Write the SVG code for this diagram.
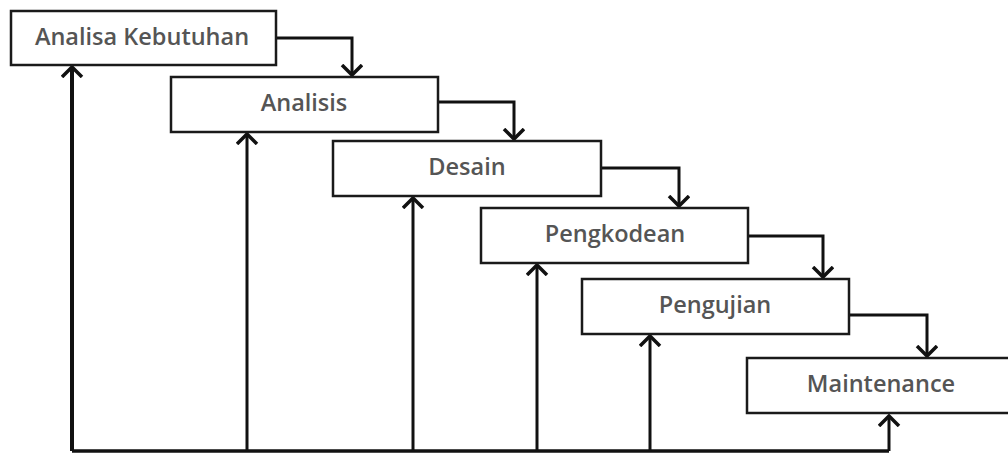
<svg xmlns="http://www.w3.org/2000/svg" width="1008" height="454" viewBox="0 0 1008 454">
<style>
.box{fill:#fff;stroke:#1a1a1a;stroke-width:2.5}
.lbl{font-family:"Open Sans","Liberation Sans",sans-serif;font-size:23.5px;font-weight:600;fill:#555;text-anchor:middle;dominant-baseline:central}
.ln{fill:none;stroke:#111;stroke-width:3}
</style>
<defs>
<marker id="ah" markerWidth="24" markerHeight="24" refX="11" refY="11" orient="auto" markerUnits="userSpaceOnUse">
<polyline points="1,1 11,11 1,21" fill="none" stroke="#111" stroke-width="3.5"/>
</marker>
</defs>
<rect width="1008" height="454" fill="#fff"/>
<g id="connectors">
<path class="ln" d="M72 451 H889" style="stroke-width:3.5"/>
<path class="ln" d="M72 451 V67" style="stroke-width:4" marker-end="url(#ah)"/>
<path class="ln" d="M247 451 V134" marker-end="url(#ah)"/>
<path class="ln" d="M413 451 V198" marker-end="url(#ah)"/>
<path class="ln" d="M537 451 V265" marker-end="url(#ah)"/>
<path class="ln" d="M650 451 V336" marker-end="url(#ah)"/>
<path class="ln" d="M889 451 V416" marker-end="url(#ah)"/>
<path class="ln" d="M276 38 H352 V75" marker-end="url(#ah)"/>
<path class="ln" d="M438 102 H514 V139" marker-end="url(#ah)"/>
<path class="ln" d="M601 168 H679 V206" marker-end="url(#ah)"/>
<path class="ln" d="M748 236 H823 V277" marker-end="url(#ah)"/>
<path class="ln" d="M849 315 H927 V356" marker-end="url(#ah)"/>
</g>
<g id="n1"><rect class="box" x="11" y="11" width="265" height="54"/><text class="lbl" x="142" y="36">Analisa Kebutuhan</text></g>
<g id="n2"><rect class="box" x="171" y="77" width="267" height="55"/><text class="lbl" x="304" y="102">Analisis</text></g>
<g id="n3"><rect class="box" x="333" y="141" width="268" height="55"/><text class="lbl" x="467" y="166">Desain</text></g>
<g id="n4"><rect class="box" x="481" y="208" width="267" height="55"/><text class="lbl" x="615" y="233">Pengkodean</text></g>
<g id="n5"><rect class="box" x="582" y="279" width="267" height="55"/><text class="lbl" x="715" y="304">Pengujian</text></g>
<g id="n6"><rect class="box" x="747" y="358" width="265" height="55"/><text class="lbl" x="881" y="383">Maintenance</text></g>
</svg>
